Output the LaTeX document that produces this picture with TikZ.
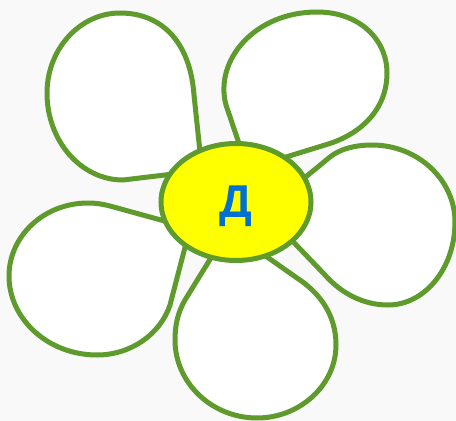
\documentclass[tikz,border=0pt]{standalone}
\usepackage{fontspec}
\setmainfont{Liberation Sans}
\usetikzlibrary{shapes.geometric}
\definecolor{LineClr}{RGB}{94,155,44}
\definecolor{CoreClr}{RGB}{255,255,0}
\definecolor{LetterClr}{RGB}{0,112,210}
\definecolor{BackClr}{RGB}{249,249,249}

\begin{document}
\begin{tikzpicture}[x=1pt,y=-1pt,
  petal/.style={draw=LineClr,fill=white,line width=5pt,line join=round},
  core/.style={ellipse,draw=LineClr,fill=CoreClr,line width=5pt,
    minimum width=150pt,minimum height=117pt,inner sep=0pt}]
\fill[BackClr] (0,0) rectangle (456,421);
\useasboundingbox (0,0) rectangle (456,421);

\draw[petal] (204,190) -- (194,95) .. controls (190,40) and (160,13) .. (120,13)
  .. controls (80,13) and (47,49) .. (47,93)
  .. controls (47,141) and (81,180) .. (123,180) -- (190,172) -- cycle;

\draw[petal] (248,170) -- (226,105) .. controls (214,60) and (255,12) .. (317,12)
  .. controls (360,12) and (387,40) .. (387,73)
  .. controls (387,110) and (360,135) .. (325,145) -- (260,165) -- cycle;

\draw[petal] (280,198) -- (330,157) .. controls (340,149) and (355,145) .. (372,145)
  .. controls (418,145) and (455,180) .. (455,222)
  .. controls (455,268) and (425,305) .. (388,305)
  .. controls (362,305) and (340,292) .. (325,275) -- (280,228) -- cycle;

\draw[petal] (222,240) -- (185,300) .. controls (178,312) and (175,325) .. (175,340)
  .. controls (175,383) and (212,418) .. (257,418)
  .. controls (300,418) and (336,385) .. (336,345)
  .. controls (336,315) and (320,293) .. (297,278) -- (250,245) -- cycle;

\draw[petal] (190,228) -- (110,206) .. controls (102,204) and (96,203) .. (88,203)
  .. controls (44,203) and (9,236) .. (9,276)
  .. controls (9,319) and (48,355) .. (97,355)
  .. controls (130,355) and (160,335) .. (170,305) -- cycle;

\node[core,text=LetterClr,font=\bfseries\fontsize{46}{46}\selectfont,
  text depth=0pt] (D) at (236,202) {Д};
\end{tikzpicture}
\end{document}
